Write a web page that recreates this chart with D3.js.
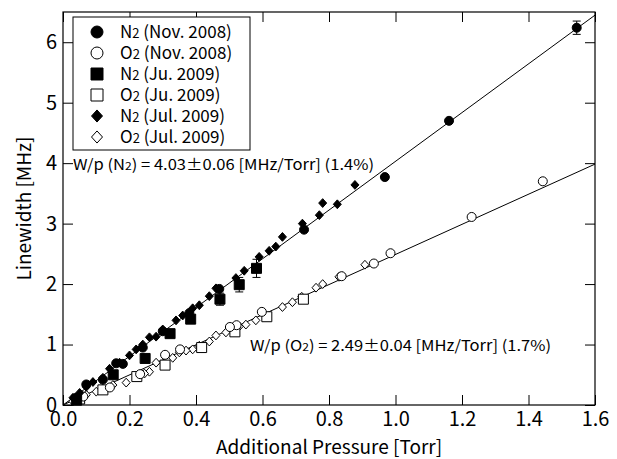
<!DOCTYPE html>
<html>
<head>
<meta charset="utf-8">
<script src="https://cdn.jsdelivr.net/npm/d3@7"></script>
<style>
  body { margin: 0; background: #fff; }
  svg text { font-family: "Noto Sans CJK JP", "DejaVu Sans", sans-serif; fill: #000; }
</style>
</head>
<body>
<div id="chart"></div>
<script>
// [pressure Torr, linewidth MHz, error]
const n2Nov08 = [[1.545, 6.24, 0.11], [1.161, 4.70, 0], [0.968, 3.77, 0], [0.725, 2.90, 0], [0.47, 1.92, 0],
  [0.38, 1.52, 0], [0.30, 1.22, 0], [0.24, 0.95, 0], [0.18, 0.68, 0], [0.16, 0.69, 0], [0.12, 0.42, 0],
  [0.07, 0.34, 0], [0.04, 0.12, 0]]
const o2Nov08 = [[1.443, 3.70], [1.229, 3.11], [0.985, 2.51], [0.935, 2.34], [0.838, 2.13], [0.598, 1.54],
  [0.522, 1.32], [0.502, 1.29], [0.352, 0.92], [0.307, 0.83], [0.232, 0.51], [0.141, 0.29], [0.061, 0.14]]
const n2Ju09 = [[0.582, 2.26, 0.15], [0.530, 1.99, 0.12], [0.472, 1.75, 0.10], [0.384, 1.42, 0],
  [0.322, 1.18, 0], [0.247, 0.77, 0], [0.151, 0.50, 0], [0.041, 0.08, 0]]
const o2Ju09 = [[0.723, 1.75], [0.613, 1.46], [0.517, 1.21], [0.417, 0.95], [0.307, 0.66], [0.222, 0.47],
  [0.12, 0.25], [0.05, 0.10]]
const n2Jul09 = [[0.878, 3.64], [0.825, 3.32], [0.781, 3.34], [0.771, 3.14], [0.72, 3.00], [0.66, 2.78],
  [0.64, 2.62], [0.62, 2.55], [0.59, 2.45], [0.545, 2.22], [0.52, 2.10], [0.46, 1.93], [0.44, 1.80],
  [0.41, 1.65], [0.39, 1.60], [0.36, 1.48], [0.34, 1.40], [0.30, 1.25], [0.28, 1.13], [0.26, 1.12],
  [0.24, 1.00], [0.22, 0.92], [0.20, 0.82], [0.17, 0.70], [0.14, 0.60], [0.12, 0.45], [0.09, 0.38],
  [0.07, 0.30], [0.05, 0.20], [0.03, 0.12]]
const o2Jul09 = [[0.908, 2.32], [0.84, 2.13], [0.83, 2.12], [0.781, 2.00], [0.761, 1.94], [0.718, 1.79],
  [0.69, 1.70], [0.66, 1.62], [0.61, 1.48], [0.58, 1.40], [0.55, 1.33], [0.53, 1.30], [0.49, 1.20],
  [0.46, 1.15], [0.44, 1.05], [0.41, 0.98], [0.39, 0.92], [0.37, 0.90], [0.35, 0.87], [0.33, 0.78],
  [0.28, 0.70], [0.26, 0.55], [0.245, 0.52], [0.19, 0.37], [0.15, 0.33], [0.12, 0.27], [0.10, 0.22],
  [0.07, 0.17], [0.05, 0.10], [0.03, 0.06]]

const slopeN2 = 4.03
const slopeO2 = 2.49
const xTicks = [0, 0.2, 0.4, 0.6, 0.8, 1.0, 1.2, 1.4, 1.6]
const yTicks = [0, 1, 2, 3, 4, 5, 6]

const series = [
  { name: 'N', date: ' (Nov. 2008)', data: n2Nov08, shape: 'circle', filled: true },
  { name: 'O', date: ' (Nov. 2008)', data: o2Nov08, shape: 'circle', filled: false },
  { name: 'N', date: ' (Ju. 2009)', data: n2Ju09, shape: 'square', filled: true },
  { name: 'O', date: ' (Ju. 2009)', data: o2Ju09, shape: 'square', filled: false },
  { name: 'N', date: ' (Jul. 2009)', data: n2Jul09, shape: 'diamond', filled: true },
  { name: 'O', date: ' (Jul. 2009)', data: o2Jul09, shape: 'diamond', filled: false }
]

const width = 617, height = 459
const margin = { top: 12, right: 22, bottom: 54, left: 63 }
const innerW = width - margin.left - margin.right
const innerH = height - margin.top - margin.bottom

const svg = d3.select('#chart').append('svg')
  .attr('width', width).attr('height', height)

const g = svg.append('g').attr('transform', `translate(${margin.left},${margin.top})`)

const x = d3.scaleLinear().domain([0, 1.6]).range([0, innerW])
const y = d3.scaleLinear().domain([0, 6.5]).range([innerH, 0])

function shapePath(shape, s) {
  if (shape === 'circle') return d3.symbol(d3.symbolCircle, Math.PI * s * s)()
  if (shape === 'square') return d3.symbol(d3.symbolSquare, 4 * s * s)()
  return `M0,${-s * 1.1}L${s},0L0,${s * 1.1}L${-s},0Z`
}

// axes with inward ticks, mirrored
g.append('g').attr('transform', `translate(0,${innerH})`)
  .call(d3.axisBottom(x).tickValues(xTicks).tickSizeInner(-10).tickSizeOuter(0).tickPadding(7).tickFormat(d3.format('.1f')))
  .call(a => a.selectAll('text').style('font-size', '20px'))
g.append('g')
  .call(d3.axisLeft(y).tickValues(yTicks).tickSizeInner(-10).tickSizeOuter(0).tickPadding(6).tickFormat(d3.format('d')))
  .call(a => a.selectAll('text').style('font-size', '20px'))
g.append('g')
  .call(d3.axisTop(x).tickValues(xTicks).tickSizeInner(-10).tickSizeOuter(0).tickFormat(''))
g.append('g').attr('transform', `translate(${innerW},0)`)
  .call(d3.axisRight(y).tickValues(yTicks).tickSizeInner(-10).tickSizeOuter(0).tickFormat(''))
g.selectAll('.domain').remove()
g.selectAll('.tick line').attr('stroke', '#000')
g.append('rect').attr('width', innerW).attr('height', innerH)
  .attr('fill', 'none').attr('stroke', '#000').attr('stroke-width', 1.2)

// fit lines
g.append('clipPath').attr('id', 'clip').append('rect').attr('width', innerW).attr('height', innerH)
;[slopeN2, slopeO2].forEach(s => {
  g.append('line').attr('clip-path', 'url(#clip)')
    .attr('x1', x(0)).attr('y1', y(0)).attr('x2', x(1.6)).attr('y2', y(1.6 * s))
    .attr('stroke', '#000').attr('stroke-width', 1)
})

// points
const order = [5, 3, 1, 4, 2, 0]
order.forEach(i => {
  const s = series[i]
  const r = s.shape === 'circle' ? 4.5 : s.shape === 'square' ? 5 : 4
  const pg = g.append('g')
  s.data.filter(d => d[2]).forEach(d => {
    const cx = x(d[0])
    pg.append('path')
      .attr('d', `M${cx},${y(d[1] - d[2])}V${y(d[1] + d[2])}M${cx - 4},${y(d[1] - d[2])}H${cx + 4}M${cx - 4},${y(d[1] + d[2])}H${cx + 4}`)
      .attr('stroke', '#000').attr('fill', 'none')
  })
  pg.selectAll('path.pt').data(s.data).join('path').attr('class', 'pt')
    .attr('transform', d => `translate(${x(d[0])},${y(d[1])})`)
    .attr('d', shapePath(s.shape, r))
    .attr('fill', s.filled ? '#000' : '#fff')
    .attr('stroke', '#000').attr('stroke-width', 1)
})

// legend
const leg = svg.append('g').attr('transform', 'translate(73,17)')
leg.append('rect').attr('width', 177).attr('height', 133)
  .attr('fill', '#fff').attr('stroke', '#000').attr('stroke-width', 1)
series.forEach((s, i) => {
  const row = leg.append('g').attr('transform', `translate(0,${15 + i * 21})`)
  const r = s.shape === 'circle' ? 6 : s.shape === 'square' ? 6 : 5.5
  row.append('path').attr('transform', 'translate(24,0)')
    .attr('d', shapePath(s.shape, r))
    .attr('fill', s.filled ? '#000' : '#fff').attr('stroke', '#000')
  const t = row.append('text').attr('x', 47).attr('y', 6).style('font-size', '17px')
  t.append('tspan').text(s.name)
  t.append('tspan').style('font-size', '13px').text('2')
  t.append('tspan').text(s.date)
})

// annotations
function annot(xp, yp, gas, val, err, pct) {
  const t = svg.append('text').attr('x', xp).attr('y', yp).style('font-size', '15px')
    .attr('textLength', 301).attr('lengthAdjust', 'spacingAndGlyphs')
  t.append('tspan').text(`W/p (${gas}`)
  t.append('tspan').style('font-size', '11px').text('2')
  t.append('tspan').text(`) = ${val}±${err} [MHz/Torr] (${pct})`)
}
annot(73, 170, 'N', '4.03', '0.06', '1.4%')
annot(250, 351, 'O', '2.49', '0.04', '1.7%')

// axis titles
svg.append('text').attr('x', margin.left + innerW / 2).attr('y', 454)
  .attr('text-anchor', 'middle').style('font-size', '19px').text('Additional Pressure [Torr]')
svg.append('text').attr('transform', `translate(31,${margin.top + innerH / 2}) rotate(-90)`)
  .attr('text-anchor', 'middle').style('font-size', '19px').text('Linewidth [MHz]')
</script>
</body>
</html>
